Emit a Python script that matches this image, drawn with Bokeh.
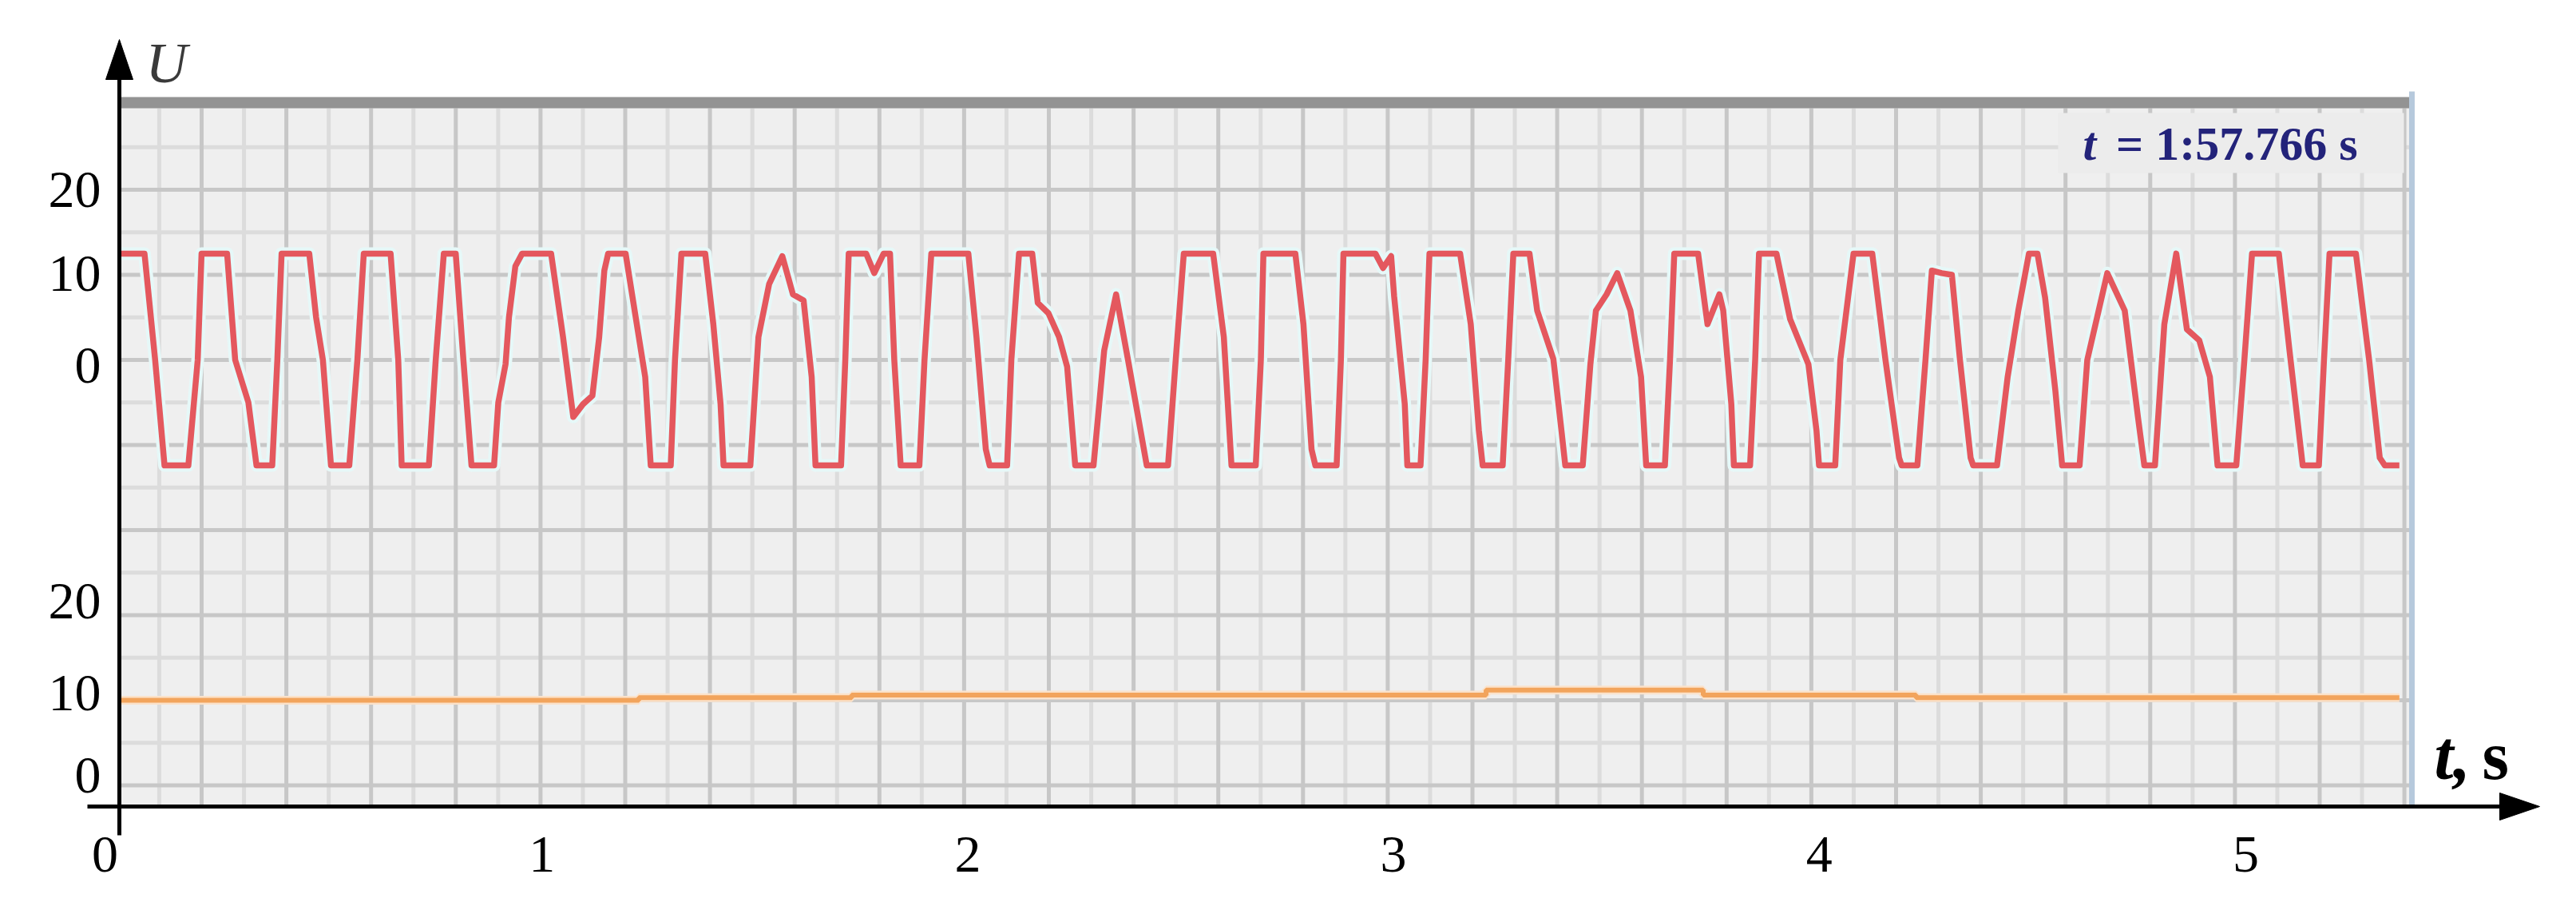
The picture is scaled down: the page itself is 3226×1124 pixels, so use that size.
from bokeh.plotting import figure
from bokeh.models import Range1d
from bokeh.core.properties import value
from bokeh.embed import file_html
from bokeh.resources import INLINE

# ---------------- data ----------------
x_ticks = [0, 1, 2, 3, 4, 5]
x_tick_labels = ["0", "1", "2", "3", "4", "5"]

upper_tick_values = [20, 10, 0]
upper_tick_labels = ["20", "10", "0"]
lower_tick_values = [20, 10, 0]
lower_tick_labels = ["20", "10", "0"]

readout_symbol = "t"
readout_text = "= 1:57.766 s"
y_axis_title = "U"
x_axis_title_sym = "t,"
x_axis_title_unit = "s"

# upper channel (red trace): time [s], U
t_red = [0.000, 0.059, 0.084, 0.106, 0.162, 0.184, 0.193, 0.253, 0.272, 0.303,
         0.322, 0.359, 0.371, 0.381, 0.446, 0.462, 0.478, 0.497, 0.540, 0.559,
         0.574, 0.637, 0.655, 0.663, 0.727, 0.743, 0.762, 0.790, 0.808, 0.827,
         0.880, 0.890, 0.907, 0.915, 0.930, 0.946, 1.014, 1.042, 1.066, 1.089,
         1.111, 1.127, 1.139, 1.148, 1.189, 1.220, 1.235, 1.248, 1.295, 1.305,
         1.320, 1.376, 1.395, 1.412, 1.419, 1.482, 1.501, 1.526, 1.557, 1.582,
         1.607, 1.626, 1.635, 1.695, 1.705, 1.713, 1.754, 1.773, 1.795, 1.810,
         1.820, 1.835, 1.879, 1.891, 1.907, 1.994, 2.013, 2.035, 2.044, 2.085,
         2.095, 2.113, 2.144, 2.157, 2.182, 2.207, 2.226, 2.245, 2.288, 2.313,
         2.341, 2.369, 2.413, 2.463, 2.481, 2.500, 2.569, 2.594, 2.612, 2.669,
         2.681, 2.687, 2.762, 2.781, 2.800, 2.809, 2.859, 2.869, 2.875, 2.950,
         2.968, 2.987, 2.994, 3.019, 3.025, 3.056, 3.068, 3.077, 3.149, 3.174,
         3.193, 3.202, 3.249, 3.262, 3.274, 3.312, 3.330, 3.368, 3.387, 3.396,
         3.437, 3.455, 3.468, 3.493, 3.518, 3.549, 3.574, 3.586, 3.630, 3.642,
         3.652, 3.708, 3.730, 3.758, 3.767, 3.786, 3.792, 3.830, 3.842, 3.851,
         3.892, 3.924, 3.967, 3.986, 3.992, 4.030, 4.042, 4.073, 4.117, 4.148,
         4.180, 4.186, 4.223, 4.242, 4.257, 4.280, 4.304, 4.323, 4.348, 4.354,
         4.410, 4.435, 4.460, 4.485, 4.505, 4.523, 4.547, 4.563, 4.604, 4.622,
         4.669, 4.710, 4.741, 4.756, 4.781, 4.803, 4.831, 4.856, 4.885, 4.910,
         4.928, 4.972, 4.991, 5.009, 5.072, 5.097, 5.122, 5.128, 5.166, 5.178,
         5.191, 5.253, 5.284, 5.309, 5.321, 5.355]
u_red = [12.5, 12.5, 0.0, -12.4, -12.4, 0.0, 12.5, 12.5, 0.0, -5.0,
         -12.4, -12.4, 0.0, 12.5, 12.5, 5.0, 0.0, -12.4, -12.4, 0.0,
         12.5, 12.5, 0.0, -12.4, -12.4, 0.0, 12.5, 12.5, 0.0, -12.4,
         -12.4, -5.0, -0.5, 5.0, 11.0, 12.5, 12.5, 2.7, -6.7, -5.2,
         -4.2, 2.7, 10.5, 12.5, 12.5, 2.7, -2.0, -12.4, -12.4, 0.0,
         12.5, 12.5, 4.2, -5.2, -12.4, -12.4, 2.7, 8.9, 12.2, 7.7,
         7.0, -2.0, -12.4, -12.4, 0.0, 12.5, 12.5, 10.2, 12.5, 12.5,
         0.0, -12.4, -12.4, 0.0, 12.5, 12.5, 2.7, -10.5, -12.4, -12.4,
         0.0, 12.5, 12.5, 6.7, 5.5, 2.7, -0.8, -12.4, -12.4, 1.1,
         7.7, 0.0, -12.4, -12.4, 0.0, 12.5, 12.5, 2.7, -12.4, -12.4,
         0.0, 12.5, 12.5, 4.2, -10.5, -12.4, -12.4, 0.0, 12.5, 12.5,
         10.8, 12.2, 7.5, -5.2, -12.4, -12.4, 0.0, 12.5, 12.5, 4.2,
         -8.3, -12.4, -12.4, 0.0, 12.5, 12.5, 5.8, 0.1, -8.3, -12.4,
         -12.4, -0.5, 5.8, 7.7, 10.2, 5.8, -2.0, -12.4, -12.4, 0.0,
         12.5, 12.5, 4.2, 7.7, 5.8, -5.2, -12.4, -12.4, 0.0, 12.5,
         12.5, 4.8, -0.5, -8.3, -12.4, -12.4, 0.0, 12.5, 12.5, 0.0,
         -11.5, -12.4, -12.4, 0.0, 10.5, 10.2, 10.0, 0.0, -11.5, -12.4,
         -12.4, -2.0, 5.8, 12.5, 12.5, 7.3, -3.6, -12.4, -12.4, 0.0,
         10.2, 5.8, -6.7, -12.4, -12.4, 4.2, 12.5, 3.6, 2.3, -2.0,
         -12.4, -12.4, 0.0, 12.5, 12.5, 1.1, -9.8, -12.4, -12.4, 0.0,
         12.5, 12.5, 0.0, -11.5, -12.4, -12.4]

# lower channel (orange trace): time [s], U
t_orange = [0.0, 1.22, 1.72, 3.21, 3.72, 4.22, 5.355]
u_orange = [10.0, 10.3, 10.6, 11.2, 10.6, 10.3, 10.3]

# ---------------- geometry (page pixels of the reference) ----------------
M = 8
W, H = 3208, 1106
SCR_L, SCR_R, SCR_T, SCR_B = 157, 3030, 129, 1017   # oscilloscope screen
PX_T0, PX_PER_S = 157.0, 533.2                        # time scale
PY_U0, PX_PER_U = 458.0, 10.65                        # voltage scale (upper channel)
LOWER_SHIFT = 50.0                                    # lower channel sits 5 divisions lower


def tx(px):
    return (px - PX_T0) / PX_PER_S


def uy(py):
    return (PY_U0 - py) / PX_PER_U


p = figure(width=W, height=H,
           x_range=Range1d(tx(M), tx(M + W)),
           y_range=Range1d(uy(M + H), uy(M)),
           x_axis_location=None, y_axis_location=None,
           min_border=0, output_backend="svg", toolbar_location=None,
           background_fill_color="white", border_fill_color="white",
           outline_line_color=None)
p.xgrid.visible = False
p.ygrid.visible = False
p.extra_y_ranges = {"lower": Range1d(uy(M + H) + LOWER_SHIFT, uy(M) + LOWER_SHIFT)}

serif = value("Liberation Serif")

# ---- oscilloscope screen with grid ----
p.quad(left=[tx(SCR_L)], right=[tx(SCR_R)], top=[uy(SCR_T)], bottom=[uy(SCR_B)],
       fill_color="#efefef", line_color=None)

cell_px = 106.1
first_major_px = 260.0
xg_major = [tx(first_major_px + k * cell_px) for k in range(-1, 27)]
xg_minor = [tx(first_major_px + (k + 0.5) * cell_px) for k in range(-1, 27)]
xg_major = [x for x in xg_major if tx(SCR_L + 3) < x < tx(SCR_R - 3)]
xg_minor = [x for x in xg_minor if tx(SCR_L + 3) < x < tx(SCR_R - 3)]
yg_major = [20 - 10 * k for k in range(8)]
yg_minor = [25 - 10 * k for k in range(8)]

y_top, y_bot = uy(143), uy(SCR_B)
x_l, x_r = tx(SCR_L), tx(SCR_R - 4)
p.segment(x0=xg_minor, x1=xg_minor, y0=[y_bot] * len(xg_minor), y1=[y_top] * len(xg_minor),
          line_color="#dcdcdc", line_width=5)
p.segment(x0=[x_l] * len(yg_minor), x1=[x_r] * len(yg_minor), y0=yg_minor, y1=yg_minor,
          line_color="#dcdcdc", line_width=5)
p.segment(x0=xg_major, x1=xg_major, y0=[y_bot] * len(xg_major), y1=[y_top] * len(xg_major),
          line_color="#c7c7c7", line_width=5)
p.segment(x0=[x_l] * len(yg_major), x1=[x_r] * len(yg_major), y0=yg_major, y1=yg_major,
          line_color="#c7c7c7", line_width=5)

# top bar of the screen
p.quad(left=[tx(SCR_L)], right=[tx(SCR_R - 4)], top=[uy(129)], bottom=[uy(143)],
       fill_color="#939393", line_color=None)
# read-out box
p.quad(left=[tx(2585)], right=[tx(3018)], top=[uy(149)], bottom=[uy(224)],
       fill_color="#ececec", line_color=None)
# right edge of the screen
p.segment(x0=[tx(3028)], x1=[tx(3028)], y0=[uy(SCR_B)], y1=[uy(122)],
          line_color="#b6c9dc", line_width=7)

# ---- traces ----
p.line(t_red, u_red, line_color="#e6f8f8", line_width=16, line_join="round")
p.line(t_red, u_red, line_color="#e4585e", line_width=7.5, line_join="round")
p.step(t_orange, u_orange, mode="after", y_range_name="lower",
       line_color="#fbe2ca", line_width=11)
p.step(t_orange, u_orange, mode="after", y_range_name="lower",
       line_color="#f2a45c", line_width=6)

# ---- read-out text ----
p.text(x=[tx(2616)], y=[uy(187)], text=[readout_symbol], text_font=serif,
       text_font_style=value("bold italic"), text_font_size=value("60px"),
       text_color="#23237a", text_baseline="middle", text_align="left")
p.text(x=[tx(2960)], y=[uy(187)], text=[readout_text], text_font=serif,
       text_font_style=value("bold"), text_font_size=value("60px"),
       text_color="#23237a", text_baseline="middle", text_align="right")

# ---- axes drawn as arrows ----
p.segment(x0=[tx(117)], x1=[tx(3150)], y0=[uy(1017)], y1=[uy(1017)],
          line_color="black", line_width=5)
p.segment(x0=[tx(157)], x1=[tx(157)], y0=[uy(1053)], y1=[uy(95)],
          line_color="black", line_width=5)
p.patches(xs=[[tx(3188), tx(3138), tx(3138)], [tx(157), tx(140), tx(174)]],
          ys=[[uy(1017), uy(1000), uy(1034)], [uy(57), uy(107), uy(107)]],
          fill_color="black", line_color="black", line_width=1)

# ---- tick labels ----
x_label_offsets = [-18, -4, -4, -4, -4, -3]
p.text(x=x_ticks, y=[uy(1077)] * len(x_ticks), text=x_tick_labels, text_font=serif,
       text_font_size=value("66px"), text_color="black", text_align="center",
       text_baseline="middle", x_offset=x_label_offsets)
p.text(x=[tx(134)] * 3, y=upper_tick_values, text=upper_tick_labels, text_font=serif,
       text_font_size=value("66px"), text_color="black", text_align="right",
       text_baseline="middle", y_offset=[0, -2, 7])
p.text(x=[tx(134)] * 3, y=lower_tick_values, text=lower_tick_labels, text_font=serif,
       text_font_size=value("66px"), text_color="black", text_align="right",
       text_baseline="middle", y_offset=[-18, -9, -13], y_range_name="lower")

# ---- axis titles ----
p.text(x=[tx(190)], y=[uy(86)], text=[y_axis_title], text_font=serif,
       text_font_style=value("italic"), text_font_size=value("72px"),
       text_color="#3a3a3a", text_align="left", text_baseline="middle")
p.text(x=[tx(3056)], y=[uy(953)], text=[x_axis_title_sym], text_font=serif,
       text_font_style=value("bold italic"), text_font_size=value("86px"),
       text_color="black", text_align="left", text_baseline="middle")
p.text(x=[tx(3116)], y=[uy(953)], text=[x_axis_title_unit], text_font=serif,
       text_font_style=value("bold"), text_font_size=value("86px"),
       text_color="black", text_align="left", text_baseline="middle")

open("out.html", "w").write(file_html(p, INLINE))
